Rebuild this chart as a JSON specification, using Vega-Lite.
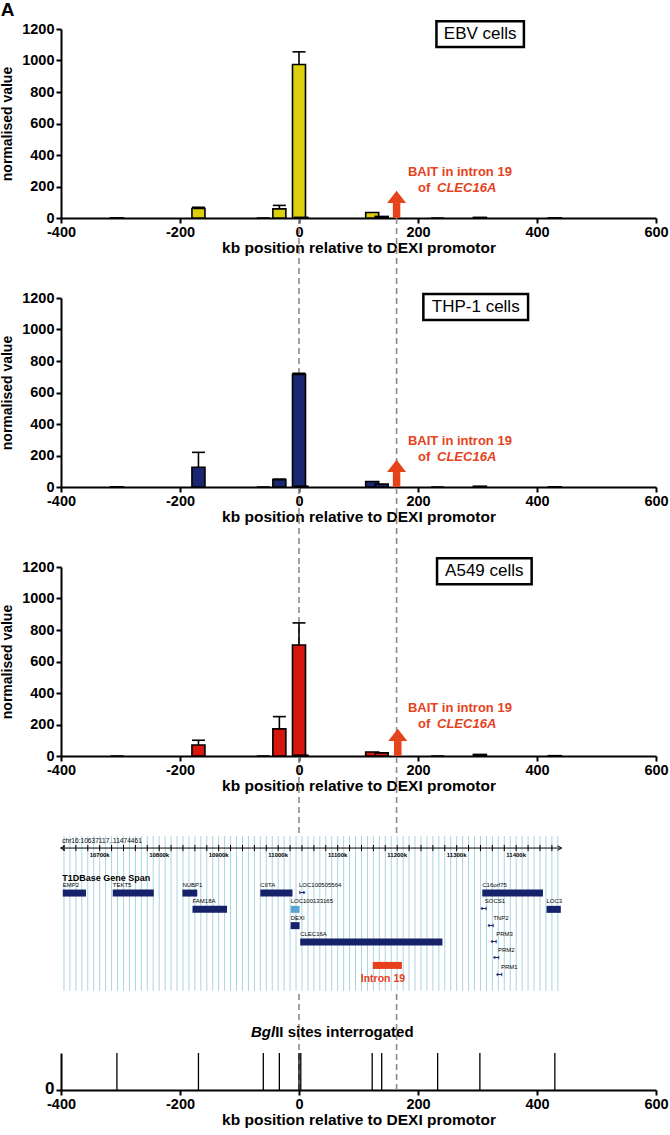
{
"$schema": "https://vega.github.io/schema/vega-lite/v6.json",
"padding": {"left": 0, "top": 0, "right": 2, "bottom": 2},
"bounds": "flush",
"spacing": 80,
"title": {"text": "A", "anchor": "start", "fontSize": 19, "font": "Liberation Sans", "fontWeight": "bold", "color": "black", "offset": 0},
"datasets": {
"qpcr": [
{"cell":"EBV","kb":-306,"value":1},
{"cell":"EBV","kb":-169,"value":60,"upper":68},
{"cell":"EBV","kb":-60,"value":0},
{"cell":"EBV","kb":-33,"value":58,"upper":80},
{"cell":"EBV","kb":0,"value":975,"upper":1055},
{"cell":"EBV","kb":4,"value":4},
{"cell":"EBV","kb":123,"value":35},
{"cell":"EBV","kb":139,"value":10},
{"cell":"EBV","kb":233,"value":0},
{"cell":"EBV","kb":304,"value":4},
{"cell":"EBV","kb":430,"value":1},
{"cell":"THP-1","kb":-306,"value":1},
{"cell":"THP-1","kb":-169,"value":125,"upper":220},
{"cell":"THP-1","kb":-60,"value":0},
{"cell":"THP-1","kb":-33,"value":47,"upper":50},
{"cell":"THP-1","kb":0,"value":715,"upper":722},
{"cell":"THP-1","kb":4,"value":5},
{"cell":"THP-1","kb":123,"value":35},
{"cell":"THP-1","kb":139,"value":18},
{"cell":"THP-1","kb":233,"value":0},
{"cell":"THP-1","kb":304,"value":5},
{"cell":"THP-1","kb":430,"value":1},
{"cell":"A549","kb":-306,"value":0},
{"cell":"A549","kb":-169,"value":70,"upper":100},
{"cell":"A549","kb":-60,"value":0},
{"cell":"A549","kb":-33,"value":172,"upper":250},
{"cell":"A549","kb":0,"value":705,"upper":845},
{"cell":"A549","kb":4,"value":5},
{"cell":"A549","kb":123,"value":25},
{"cell":"A549","kb":139,"value":20},
{"cell":"A549","kb":233,"value":0},
{"cell":"A549","kb":304,"value":10},
{"cell":"A549","kb":430,"value":2}
],
"sites": [{"kb":-306},{"kb":-169},{"kb":-60},{"kb":-33},{"kb":0},{"kb":3},{"kb":123},{"kb":139},{"kb":233},{"kb":304},{"kb":430}],
"marks": [{"kb":0},{"kb":164}],
"grid": [{"pos":10640},{"pos":10650},{"pos":10660},{"pos":10670},{"pos":10680},{"pos":10690},{"pos":10700},{"pos":10710},{"pos":10720},{"pos":10730},{"pos":10740},{"pos":10750},{"pos":10760},{"pos":10770},{"pos":10780},{"pos":10790},{"pos":10800},{"pos":10810},{"pos":10820},{"pos":10830},{"pos":10840},{"pos":10850},{"pos":10860},{"pos":10870},{"pos":10880},{"pos":10890},{"pos":10900},{"pos":10910},{"pos":10920},{"pos":10930},{"pos":10940},{"pos":10950},{"pos":10960},{"pos":10970},{"pos":10980},{"pos":10990},{"pos":11000},{"pos":11010},{"pos":11020},{"pos":11030},{"pos":11040},{"pos":11050},{"pos":11060},{"pos":11070},{"pos":11080},{"pos":11090},{"pos":11100},{"pos":11110},{"pos":11120},{"pos":11130},{"pos":11140},{"pos":11150},{"pos":11160},{"pos":11170},{"pos":11180},{"pos":11190},{"pos":11200},{"pos":11210},{"pos":11220},{"pos":11230},{"pos":11240},{"pos":11250},{"pos":11260},{"pos":11270},{"pos":11280},{"pos":11290},{"pos":11300},{"pos":11310},{"pos":11320},{"pos":11330},{"pos":11340},{"pos":11350},{"pos":11360},{"pos":11370},{"pos":11380},{"pos":11390},{"pos":11400},{"pos":11410},{"pos":11420},{"pos":11430},{"pos":11440},{"pos":11450},{"pos":11460},{"pos":11470}],
"ticklabels": [{"pos":10700,"lab":"10700k"},{"pos":10800,"lab":"10800k"},{"pos":10900,"lab":"10900k"},{"pos":11000,"lab":"11000k"},{"pos":11100,"lab":"11100k"},{"pos":11200,"lab":"11200k"},{"pos":11300,"lab":"11300k"},{"pos":11400,"lab":"11400k"}],
"genes": [
{"gene":"EMP2","start":10638,"end":10677,"row":1,"type":"bar"},
{"gene":"TEKT5","start":10722,"end":10791,"row":1,"type":"bar"},
{"gene":"NUBP1","start":10839,"end":10864,"row":1,"type":"bar"},
{"gene":"FAM18A","start":10856,"end":10914,"row":2,"type":"bar"},
{"gene":"CIITA","start":10970,"end":11024,"row":1,"type":"bar"},
{"gene":"LOC100505564","start":11035,"end":11043,"row":1,"type":"right"},
{"gene":"LOC100133165","start":11021,"end":11036,"row":2,"type":"light"},
{"gene":"DEXI","start":11021,"end":11036,"row":3,"type":"bar"},
{"gene":"CLEC16A","start":11037,"end":11276,"row":4,"type":"bar"},
{"gene":"C16orf75","start":11343,"end":11445,"row":1,"type":"bar"},
{"gene":"SOCS1","start":11340,"end":11349,"row":2,"type":"left"},
{"gene":"LOC3","start":11451,"end":11475,"row":2,"type":"bar"},
{"gene":"TNP2","start":11352,"end":11363,"row":3,"type":"left"},
{"gene":"PRM3","start":11357,"end":11368,"row":4,"type":"left"},
{"gene":"PRM2","start":11361,"end":11371,"row":5,"type":"left"},
{"gene":"PRM1","start":11366,"end":11376,"row":6,"type":"left"}
]
},
"vconcat": [
{
"width": 595, "height": 189,
"layer": [
{"data":{"name":"marks"},"mark":{"type":"rule","color":"#8c8c8c","strokeWidth":1.6,"strokeDash":[6,4]},
 "encoding":{"x":{"field":"kb","type":"quantitative","scale":{"domain":[-400,600],"nice":false,"padding":0},"axis":{"values":[-400,-200,0,200,400,600],"labelExpr":"'' + datum.value"},"title":"kb position relative to DEXI promotor"},"y":{"datum":0,"type":"quantitative"},"y2":{"datum":-508}}},
{"data":{"values":[{}]},"mark":{"type":"rule","color":"#e5431c","strokeWidth":7.5},
 "encoding":{"x":{"datum":164},"y":{"datum":0},"y2":{"datum":95}}},
{"data":{"values":[{}]},"mark":{"type":"point","shape":"M-1,0.6L1,0.6L0,-0.7Z","filled":true,"size":361,"color":"#e5431c","opacity":1},
 "encoding":{"x":{"datum":164},"y":{"datum":131}}},
{"data":{"name":"qpcr"},"transform":[{"filter":"datum.cell === 'EBV'"}],"mark":{"type":"bar","orient":"vertical","width":13,"fill":"#dccf0e","stroke":"black","strokeWidth":1.6},
 "encoding":{"x":{"field":"kb","type":"quantitative","scale":{"domain":[-400,600],"nice":false,"padding":0},"axis":{"values":[-400,-200,0,200,400,600],"labelExpr":"'' + datum.value"},"title":"kb position relative to DEXI promotor"},"y":{"field":"value","type":"quantitative","scale":{"domain":[0,1200],"nice":false},"axis":{"values":[0,200,400,600,800,1000,1200],"labelExpr":"'' + datum.value","labelOverlap":false,"tickCount":7},"title":"normalised value"}}},
{"data":{"name":"qpcr"},"transform":[{"filter":"datum.cell === 'EBV' && isValid(datum.upper)"}],"mark":{"type":"rule","color":"black","strokeWidth":1.6},
 "encoding":{"x":{"field":"kb","type":"quantitative","title":"kb position relative to DEXI promotor"},"y":{"field":"value","type":"quantitative","title":"normalised value"},"y2":{"field":"upper"}}},
{"data":{"name":"qpcr"},"transform":[{"filter":"datum.cell === 'EBV' && isValid(datum.upper)"}],"mark":{"type":"tick","orient":"horizontal","color":"black","size":13,"thickness":1.6,"opacity":1},
 "encoding":{"x":{"field":"kb","type":"quantitative","title":"kb position relative to DEXI promotor"},"y":{"field":"upper","type":"quantitative","title":"normalised value"}}},
{"data":{"values":[{}]},"mark":{"type":"rect","fill":"white","stroke":"black","strokeWidth":2.5},
 "encoding":{"x":{"datum":231},"x2":{"datum":378},"y":{"datum":1085},"y2":{"datum":1250}}},
{"data":{"values":[{}]},"mark":{"type":"text","text":"EBV cells","fontSize":17,"font":"Liberation Sans","color":"black","baseline":"middle","align":"center"},
 "encoding":{"x":{"datum":304.5},"y":{"datum":1167}}},
{"data":{"values":[{}]},"mark":{"type":"text","text":"BAIT in intron 19","fontSize":13,"fontWeight":"bold","font":"Liberation Sans","color":"#e5431c","baseline":"middle","align":"left"},
 "encoding":{"x":{"datum":183},"y":{"datum":292}}},
{"data":{"values":[{}]},"mark":{"type":"text","text":"of","fontSize":13,"fontWeight":"bold","font":"Liberation Sans","color":"#e5431c","baseline":"middle","align":"left"},
 "encoding":{"x":{"datum":200},"y":{"datum":188}}},
{"data":{"values":[{}]},"mark":{"type":"text","text":"CLEC16A","fontSize":13,"fontWeight":"bold","fontStyle":"italic","font":"Liberation Sans","color":"#e5431c","baseline":"middle","align":"left"},
 "encoding":{"x":{"datum":232},"y":{"datum":188}}}
]
},
{
"width": 595, "height": 189,
"layer": [
{"data":{"name":"marks"},"mark":{"type":"rule","color":"#8c8c8c","strokeWidth":1.6,"strokeDash":[6,4]},
 "encoding":{"x":{"field":"kb","type":"quantitative","scale":{"domain":[-400,600],"nice":false,"padding":0},"axis":{"values":[-400,-200,0,200,400,600],"labelExpr":"'' + datum.value"},"title":"kb position relative to DEXI promotor"},"y":{"datum":1200,"type":"quantitative"},"y2":{"datum":-508}}},
{"data":{"values":[{}]},"mark":{"type":"rule","color":"#e5431c","strokeWidth":7.5},
 "encoding":{"x":{"datum":164},"y":{"datum":0},"y2":{"datum":95}}},
{"data":{"values":[{}]},"mark":{"type":"point","shape":"M-1,0.6L1,0.6L0,-0.7Z","filled":true,"size":361,"color":"#e5431c","opacity":1},
 "encoding":{"x":{"datum":164},"y":{"datum":131}}},
{"data":{"name":"qpcr"},"transform":[{"filter":"datum.cell === 'THP-1'"}],"mark":{"type":"bar","orient":"vertical","width":13,"fill":"#1b2670","stroke":"black","strokeWidth":1.6},
 "encoding":{"x":{"field":"kb","type":"quantitative","scale":{"domain":[-400,600],"nice":false,"padding":0},"axis":{"values":[-400,-200,0,200,400,600],"labelExpr":"'' + datum.value"},"title":"kb position relative to DEXI promotor"},"y":{"field":"value","type":"quantitative","scale":{"domain":[0,1200],"nice":false},"axis":{"values":[0,200,400,600,800,1000,1200],"labelExpr":"'' + datum.value","labelOverlap":false,"tickCount":7},"title":"normalised value"}}},
{"data":{"name":"qpcr"},"transform":[{"filter":"datum.cell === 'THP-1' && isValid(datum.upper)"}],"mark":{"type":"rule","color":"black","strokeWidth":1.6},
 "encoding":{"x":{"field":"kb","type":"quantitative","title":"kb position relative to DEXI promotor"},"y":{"field":"value","type":"quantitative","title":"normalised value"},"y2":{"field":"upper"}}},
{"data":{"name":"qpcr"},"transform":[{"filter":"datum.cell === 'THP-1' && isValid(datum.upper)"}],"mark":{"type":"tick","orient":"horizontal","color":"black","size":13,"thickness":1.6,"opacity":1},
 "encoding":{"x":{"field":"kb","type":"quantitative","title":"kb position relative to DEXI promotor"},"y":{"field":"upper","type":"quantitative","title":"normalised value"}}},
{"data":{"values":[{}]},"mark":{"type":"rect","fill":"white","stroke":"black","strokeWidth":2.5},
 "encoding":{"x":{"datum":209},"x2":{"datum":385},"y":{"datum":1060},"y2":{"datum":1225}}},
{"data":{"values":[{}]},"mark":{"type":"text","text":"THP-1 cells","fontSize":17,"font":"Liberation Sans","color":"black","baseline":"middle","align":"center"},
 "encoding":{"x":{"datum":297},"y":{"datum":1142}}},
{"data":{"values":[{}]},"mark":{"type":"text","text":"BAIT in intron 19","fontSize":13,"fontWeight":"bold","font":"Liberation Sans","color":"#e5431c","baseline":"middle","align":"left"},
 "encoding":{"x":{"datum":183},"y":{"datum":292}}},
{"data":{"values":[{}]},"mark":{"type":"text","text":"of","fontSize":13,"fontWeight":"bold","font":"Liberation Sans","color":"#e5431c","baseline":"middle","align":"left"},
 "encoding":{"x":{"datum":200},"y":{"datum":192}}},
{"data":{"values":[{}]},"mark":{"type":"text","text":"CLEC16A","fontSize":13,"fontWeight":"bold","fontStyle":"italic","font":"Liberation Sans","color":"#e5431c","baseline":"middle","align":"left"},
 "encoding":{"x":{"datum":232},"y":{"datum":192}}}
]
},
{
"width": 595, "height": 189,
"layer": [
{"data":{"name":"marks"},"mark":{"type":"rule","color":"#8c8c8c","strokeWidth":1.6,"strokeDash":[6,4]},
 "encoding":{"x":{"field":"kb","type":"quantitative","scale":{"domain":[-400,600],"nice":false,"padding":0},"axis":{"values":[-400,-200,0,200,400,600],"labelExpr":"'' + datum.value"},"title":"kb position relative to DEXI promotor"},"y":{"datum":1200,"type":"quantitative"},"y2":{"datum":-508}}},
{"data":{"values":[{}]},"mark":{"type":"rule","color":"#e5431c","strokeWidth":7.5},
 "encoding":{"x":{"datum":166},"y":{"datum":0},"y2":{"datum":95}}},
{"data":{"values":[{}]},"mark":{"type":"point","shape":"M-1,0.6L1,0.6L0,-0.7Z","filled":true,"size":361,"color":"#e5431c","opacity":1},
 "encoding":{"x":{"datum":166},"y":{"datum":131}}},
{"data":{"name":"qpcr"},"transform":[{"filter":"datum.cell === 'A549'"}],"mark":{"type":"bar","orient":"vertical","width":13,"fill":"#d6170f","stroke":"black","strokeWidth":1.6},
 "encoding":{"x":{"field":"kb","type":"quantitative","scale":{"domain":[-400,600],"nice":false,"padding":0},"axis":{"values":[-400,-200,0,200,400,600],"labelExpr":"'' + datum.value"},"title":"kb position relative to DEXI promotor"},"y":{"field":"value","type":"quantitative","scale":{"domain":[0,1200],"nice":false},"axis":{"values":[0,200,400,600,800,1000,1200],"labelExpr":"'' + datum.value","labelOverlap":false,"tickCount":7},"title":"normalised value"}}},
{"data":{"name":"qpcr"},"transform":[{"filter":"datum.cell === 'A549' && isValid(datum.upper)"}],"mark":{"type":"rule","color":"black","strokeWidth":1.6},
 "encoding":{"x":{"field":"kb","type":"quantitative","title":"kb position relative to DEXI promotor"},"y":{"field":"value","type":"quantitative","title":"normalised value"},"y2":{"field":"upper"}}},
{"data":{"name":"qpcr"},"transform":[{"filter":"datum.cell === 'A549' && isValid(datum.upper)"}],"mark":{"type":"tick","orient":"horizontal","color":"black","size":13,"thickness":1.6,"opacity":1},
 "encoding":{"x":{"field":"kb","type":"quantitative","title":"kb position relative to DEXI promotor"},"y":{"field":"upper","type":"quantitative","title":"normalised value"}}},
{"data":{"values":[{}]},"mark":{"type":"rect","fill":"white","stroke":"black","strokeWidth":2.5},
 "encoding":{"x":{"datum":232},"x2":{"datum":391},"y":{"datum":1090},"y2":{"datum":1255}}},
{"data":{"values":[{}]},"mark":{"type":"text","text":"A549 cells","fontSize":17,"font":"Liberation Sans","color":"black","baseline":"middle","align":"center"},
 "encoding":{"x":{"datum":311.5},"y":{"datum":1172}}},
{"data":{"values":[{}]},"mark":{"type":"text","text":"BAIT in intron 19","fontSize":13,"fontWeight":"bold","font":"Liberation Sans","color":"#e5431c","baseline":"middle","align":"left"},
 "encoding":{"x":{"datum":183},"y":{"datum":305}}},
{"data":{"values":[{}]},"mark":{"type":"text","text":"of","fontSize":13,"fontWeight":"bold","font":"Liberation Sans","color":"#e5431c","baseline":"middle","align":"left"},
 "encoding":{"x":{"datum":200},"y":{"datum":203}}},
{"data":{"values":[{}]},"mark":{"type":"text","text":"CLEC16A","fontSize":13,"fontWeight":"bold","fontStyle":"italic","font":"Liberation Sans","color":"#e5431c","baseline":"middle","align":"left"},
 "encoding":{"x":{"datum":232},"y":{"datum":203}}}
]
},
{
"width": 595, "height": 137,
"layer": [
{"data":{"name":"grid"},"mark":{"type":"rule","color":"#a8d5df","strokeWidth":1},
 "encoding":{"x":{"field":"pos","type":"quantitative","scale":{"domain":[10635,11635],"nice":false,"padding":0},"axis":null},"y":{"datum":-2.5,"type":"quantitative","scale":{"domain":[-2.5,5.905],"reverse":true,"nice":false},"axis":null},"y2":{"datum":7}}},
{"data":{"values":[{}]},"mark":{"type":"rule","color":"black","strokeWidth":1},
 "encoding":{"x":{"datum":10637,"axis":null},"x2":{"datum":11474},"y":{"datum":-1.76,"axis":null}}},
{"data":{"name":"grid"},"transform":[{"filter":"datum.pos % 20 === 0"}],"mark":{"type":"rule","color":"black","strokeWidth":1},
 "encoding":{"x":{"field":"pos","type":"quantitative","axis":null},"y":{"datum":-1.95,"axis":null},"y2":{"datum":-1.57}}},
{"data":{"values":[{}]},"mark":{"type":"point","shape":"M1,-1L-1,0L1,1","filled":false,"stroke":"black","strokeWidth":1,"size":20,"opacity":1},
 "encoding":{"x":{"datum":10638,"axis":null},"y":{"datum":-1.76,"axis":null}}},
{"data":{"values":[{}]},"mark":{"type":"point","shape":"M-1,-1L1,0L-1,1","filled":false,"stroke":"black","strokeWidth":1,"size":20,"opacity":1},
 "encoding":{"x":{"datum":11473,"axis":null},"y":{"datum":-1.76,"axis":null}}},
{"data":{"name":"ticklabels"},"mark":{"type":"text","fontSize":6,"fontWeight":"bold","font":"Liberation Sans","color":"black","baseline":"middle","align":"center"},
 "encoding":{"x":{"field":"pos","type":"quantitative","axis":null},"y":{"datum":-1.35,"axis":null},"text":{"field":"lab"}}},
{"data":{"values":[{}]},"mark":{"type":"text","text":"chr16:10637117..11474461","fontSize":6.6,"font":"Liberation Sans","color":"black","baseline":"middle","align":"left"},
 "encoding":{"x":{"datum":10637,"axis":null},"y":{"datum":-2.2,"axis":null}}},
{"data":{"values":[{}]},"mark":{"type":"text","text":"T1DBase Gene Span","fontSize":9,"fontWeight":"bold","font":"Liberation Sans","color":"black","baseline":"middle","align":"left"},
 "encoding":{"x":{"datum":10637,"axis":null},"y":{"datum":0.1,"axis":null}}},
{"data":{"name":"genes"},"transform":[{"filter":"datum.type === 'bar' || datum.type === 'light'"}],"mark":{"type":"rule","strokeWidth":7,"strokeCap":"butt"},
 "encoding":{"x":{"field":"start","type":"quantitative","axis":null},"x2":{"field":"end"},"y":{"field":"row","type":"quantitative","axis":null},
 "color":{"field":"type","type":"nominal","scale":{"domain":["bar","light"],"range":["#16226a","#5aa5d2"]},"legend":null}}},
{"data":{"name":"genes"},"transform":[{"filter":"datum.type === 'left' || datum.type === 'right'"}],"mark":{"type":"text","fontSize":8,"font":"DejaVu Sans","fontWeight":"bold","color":"#16226a","baseline":"middle","align":"left"},
 "encoding":{"x":{"field":"start","type":"quantitative","axis":null},"y":{"field":"row","type":"quantitative","axis":null},
 "text":{"condition":{"test":"datum.type === 'left'","value":"↤"},"value":"↦"}}},
{"data":{"name":"genes"},"transform":[{"filter":"datum.type !== 'left'"}],"mark":{"type":"text","fontSize":6,"font":"Liberation Sans","color":"black","baseline":"middle","align":"left","dy":-8},
 "encoding":{"x":{"field":"start","type":"quantitative","axis":null},"y":{"field":"row","type":"quantitative","axis":null},"text":{"field":"gene"}}},
{"data":{"name":"genes"},"transform":[{"filter":"datum.type === 'left'"}],"mark":{"type":"text","fontSize":6,"font":"Liberation Sans","color":"black","baseline":"middle","align":"left","dy":-8,"dx":-1},
 "encoding":{"x":{"field":"end","type":"quantitative","axis":null},"y":{"field":"row","type":"quantitative","axis":null},"text":{"field":"gene"}}},
{"data":{"values":[{}]},"mark":{"type":"rule","strokeWidth":7,"strokeCap":"butt","color":"#e8401c"},
 "encoding":{"x":{"datum":11159,"axis":null},"x2":{"datum":11208},"y":{"datum":5.44,"axis":null}}},
{"data":{"values":[{}]},"mark":{"type":"text","text":"Intron 19","fontSize":10.5,"fontWeight":"bold","font":"Liberation Sans","color":"#e8401c","baseline":"middle","align":"center"},
 "encoding":{"x":{"datum":11176,"axis":null},"y":{"datum":6.3,"axis":null}}}
]
},
{
"width": 595, "height": 37,
"layer": [
{"data":{"name":"marks"},"mark":{"type":"rule","color":"#8c8c8c","strokeWidth":1.6,"strokeDash":[6,4]},
 "encoding":{"x":{"field":"kb","type":"quantitative","scale":{"domain":[-400,600],"nice":false,"padding":0},"axis":{"values":[-400,-200,0,200,400,600],"labelExpr":"'' + datum.value"},"title":"kb position relative to DEXI promotor"},"y":{"datum":0,"type":"quantitative","scale":{"domain":[0,1],"nice":false},"axis":{"values":[0],"title":null,"labelFontSize":17,"labelOffset":-2,"labelExpr":"'' + datum.value"}},"y2":{"datum":2.676}}},
{"data":{"name":"sites"},"mark":{"type":"rule","color":"black","strokeWidth":1.3},
 "encoding":{"x":{"field":"kb","type":"quantitative","title":"kb position relative to DEXI promotor"},"y":{"datum":0},"y2":{"datum":1}}},
{"data":{"values":[{}]},"mark":{"type":"text","text":"Bgl","fontSize":15,"fontWeight":"bold","fontStyle":"italic","font":"Liberation Sans","color":"black","baseline":"middle","align":"right"},
 "encoding":{"x":{"datum":-40},"y":{"datum":1.57}}},
{"data":{"values":[{}]},"mark":{"type":"text","text":"II sites interrogated","fontSize":15,"fontWeight":"bold","font":"Liberation Sans","color":"black","baseline":"middle","align":"left"},
 "encoding":{"x":{"datum":-40},"y":{"datum":1.57}}}
]
}
],
"config": {
"view": {"stroke": null},
"font": "Liberation Sans",
"axis": {"domainColor": "black", "domainWidth": 2, "tickColor": "black", "tickWidth": 2, "tickSize": 5, "grid": false, "labelFont": "Liberation Sans", "labelFontWeight": "bold", "labelFontSize": 14.5, "labelColor": "black", "labelPadding": 2, "labelFlush": false, "labelOverlap": false, "labelBound": false, "titleFont": "Liberation Sans", "titleFontWeight": "bold", "titleColor": "black"},
"axisX": {"titleFontSize": 15.5, "titlePadding": 2},
"axisY": {"titleFontSize": 14, "titlePadding": 7}
}
}
